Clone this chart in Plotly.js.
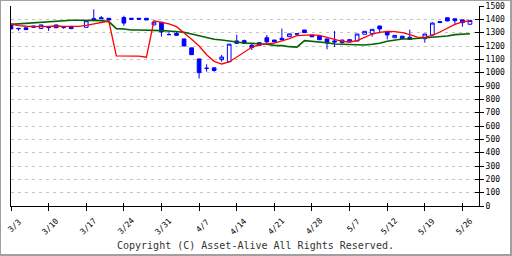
<!DOCTYPE html>
<html><head><meta charset="utf-8">
<script src="https://cdn.plot.ly/plotly-3.0.1.min.js"></script>
<style>
html,body{margin:0;padding:0;background:#fff;}
#wrap{position:relative;width:512px;height:256px;overflow:hidden;}
#chart{width:512px;height:256px;}
#frame{position:absolute;left:0;top:0;width:512px;height:256px;box-sizing:border-box;border-left:1px solid #a0a0a0;border-top:1px solid #a0a0a0;border-right:2px solid #a0a0a0;border-bottom:2px solid #a0a0a0;pointer-events:none;}
</style></head><body>
<div id="wrap"><div id="chart"></div><div id="frame"></div></div>
<script>
// weekday slots (2014), null = no bar
const days = ['3/3','3/4','3/5','3/6','3/7','3/10','3/11','3/12','3/13','3/14',
  '3/17','3/18','3/19','3/20','3/21','3/24','3/25','3/26','3/27','3/28',
  '3/31','4/1','4/2','4/3','4/4','4/7','4/8','4/9','4/10','4/11',
  '4/14','4/15','4/16','4/17','4/18','4/21','4/22','4/23','4/24','4/25',
  '4/28','4/29','4/30','5/1','5/2','5/5','5/6','5/7','5/8','5/9',
  '5/12','5/13','5/14','5/15','5/16','5/19','5/20','5/21','5/22','5/23',
  '5/26','5/27'];
const open  = [1357,1332,1336,1350,1332,1340,1358,1342,1347,null,
  1340,1405,1412,1408,null,1413,1408,1408,1408,1358,
  1378,1286,1295,1253,1186,1103,1034,1036,1098,1082,
  1238,1240,1205,1225,1262,1245,1258,1270,1288,1320,
  1282,1275,1253,1238,1226,1230,1237,1288,1292,1350,
  1307,1262,1274,1265,null,1255,1283,1383,1412,1404,
  1396,1363];
const high  = [1357,1333,1337,1350,1358,1341,1358,1350,1348,null,
  1390,1475,1425,1408,null,1427,1409,1408,1408,1380,
  1380,1310,1305,1253,1186,1103,1063,1036,1133,1214,
  1284,1248,1220,1225,1282,1246,1330,1292,1292,1320,
  1283,1276,1253,1313,1245,1248,1290,1310,1325,1350,
  1308,1282,1275,1322,null,1290,1378,1384,1412,1405,
  1397,1393];
const low   = [1328,1315,1322,1340,1332,1313,1337,1328,1330,null,
  1339,1393,1405,1395,null,1352,1395,1400,1395,1358,
  1270,1284,1278,1200,1135,956,1008,1008,1082,1082,
  1218,1220,1170,1204,1220,1230,1246,1270,1288,1300,
  1268,1247,1175,1192,1217,1229,1237,1288,1270,1295,
  1250,1262,1255,1248,null,1225,1283,1372,1385,1360,
  1345,1362];
const close = [1328,1330,1323,1341,1358,1338,1337,1340,1330,null,
  1390,1393,1405,1395,null,1372,1400,1401,1395,1380,
  1305,1285,1280,1200,1135,1000,1032,1016,1117,1214,
  1220,1220,1188,1205,1231,1230,1247,1291,1292,1300,
  1269,1247,1222,1230,1245,1248,1290,1310,1325,1328,
  1283,1280,1256,1250,null,1290,1372,1376,1388,1390,
  1375,1392];
const ma5  = [1365,1353,1348,1345,1345,1347,1350,1347,1345,1347,
  1355,1365,1377,1387,1126,1126,1126,1124,1116,1390,
  1378,1366,1345,1300,1250,1200,1135,1085,1065,1080,
  1115,1155,1190,1210,1215,1222,1238,1255,1278,1283,
  1283,1280,1265,1250,1235,1230,1240,1265,1290,1303,
  1310,1308,1300,1285,1267,1265,1280,1305,1335,1362,
  1380,1390];
const ma25 = [1362,1366,1370,1378,1382,1386,1390,1392,1393,1393,
  1393,1393,1390,1383,1330,1328,1320,1320,1320,1320,
  1315,1313,1310,1303,1290,1278,1263,1250,1245,1238,
  1228,1222,1220,1218,1213,1205,1203,1195,1192,1240,
  1235,1232,1225,1215,1213,1208,1208,1208,1213,1220,
  1235,1243,1252,1253,1257,1258,1265,1268,1275,1285,
  1290,1292];
const tickDays   = ['3/3','3/10','3/17','3/24','3/31','4/7','4/14','4/21','4/28','5/5','5/12','5/19','5/26'];
const tickLabels = ['3/3','3/10','3/17','3/24','3/31','4/7','4/14','4/21','4/28','5/7','5/12','5/19','5/26'];
const priceTicks = [0,100,200,300,400,500,600,700,800,900,1000,1100,1200,1300,1400,1500];

const idx = days.map((d,i)=>i).filter(i=>open[i]!==null);
const FONT = 'DejaVu Sans Mono, monospace';

const candles = {
  type:'candlestick', xaxis:'x', yaxis:'y',
  x: idx.map(i=>days[i]), open: idx.map(i=>open[i]), high: idx.map(i=>high[i]),
  low: idx.map(i=>low[i]), close: idx.map(i=>close[i]),
  whiskerwidth:0,
  increasing:{line:{color:'#0000ff',width:1},fillcolor:'#ffffff'},
  decreasing:{line:{color:'#0000ff',width:1},fillcolor:'#0000ff'},
  hoverinfo:'skip'
};
const l25 = {type:'scatter',mode:'lines',x:days,y:ma25,xaxis:'x2',yaxis:'y2',
  line:{color:'#006400',width:1.6},hoverinfo:'skip'};
const l5 = {type:'scatter',mode:'lines',x:days,y:ma5,xaxis:'x2',yaxis:'y2',
  line:{color:'#ff0000',width:1.3},hoverinfo:'skip'};

// rotated date labels, their upper-right end sitting just right of the tick
const CH = 4.85;
const dateAnns = tickDays.map((d,k)=>{
  const t = tickLabels[k];
  const half = t.length*CH/2*Math.SQRT1_2;
  return {x:d, xref:'x', y:0, yref:'paper', text:t, textangle:-45, showarrow:false,
    xanchor:'center', yanchor:'middle', xshift:9-half, yshift:-(14+half),
    font:{family:FONT,size:8,color:'#000'}};
});

const xr = [0, 62.2];
const layout = {
  width:512, height:256,
  margin:{l:10.5, r:33.3, t:5.5, b:50, pad:0},
  paper_bgcolor:'#ffffff', plot_bgcolor:'#ffffff', showlegend:false,
  xaxis:{type:'category', categoryorder:'array', categoryarray:days, range:xr,
    showline:true, linecolor:'#000', linewidth:1, ticks:'outside', ticklen:4, tickwidth:1, tickcolor:'#000',
    tickvals:tickDays, showticklabels:false, showgrid:false, zeroline:false,
    rangeslider:{visible:false}, fixedrange:true},
  xaxis2:{type:'category', categoryorder:'array', categoryarray:days, range:xr,
    overlaying:'x', anchor:'y2', side:'bottom', ticks:'inside', ticklen:3, tickwidth:1, tickcolor:'#000',
    tickvals:tickDays, showticklabels:false, showline:false, showgrid:false, zeroline:false, fixedrange:true},
  yaxis:{range:[0,1500], side:'right', showline:true, mirror:true, linecolor:'#000', linewidth:1,
    ticks:'outside', ticklen:4, tickwidth:1, tickcolor:'#000', tickvals:priceTicks,
    tickfont:{family:FONT,size:8,color:'#000'},
    showgrid:true, gridcolor:'#c4c4c4', gridwidth:1, griddash:'3px,4px', zeroline:false, fixedrange:true},
  yaxis2:{range:[0,1500], overlaying:'y', anchor:'x2', side:'right', ticks:'inside', ticklen:4, tickwidth:1,
    tickcolor:'#000', tickvals:priceTicks, showticklabels:false, showgrid:false, zeroline:false,
    showline:false, fixedrange:true},
  annotations:dateAnns.concat([{text:'Copyright (C) Asset-Alive All Rights Reserved.', xref:'paper', yref:'paper',
    x:0.522, y:-0.1995, xanchor:'center', yanchor:'middle', showarrow:false,
    font:{family:FONT,size:10,color:'#333'}}])
};
Plotly.newPlot('chart',[candles,l25,l5],layout,{staticPlot:true,displayModeBar:false});
</script>
</body></html>
